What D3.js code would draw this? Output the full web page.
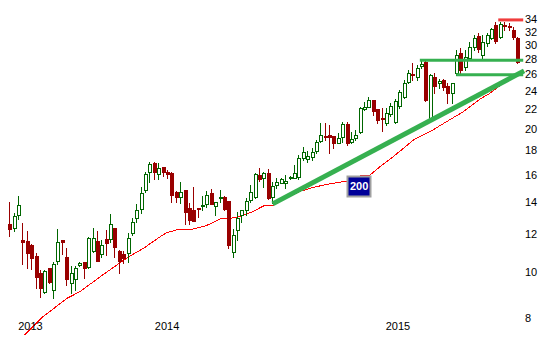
<!DOCTYPE html>
<html lang="en">
<head>
<meta charset="UTF-8">
<title>Weekly candles</title>
<script src="https://cdn.jsdelivr.net/npm/d3@7"></script>
<style>
  body { margin: 0; background: #fff; }
  svg { display: block; font-family: "Liberation Sans", Arial, sans-serif; }
</style>
</head>
<body>
<svg width="540" height="360"></svg>
<script>
// weekly OHLC
const opens = [
  12.59,12.35,13.15,11.67,11.61,11.39,10.81,9.94,9.06,10.18,
  9.16,10.55,11.67,10.74,9.47,9.66,10.33,10.48,10.23,11.09,
  11.61,10.90,11.71,11.71,12.35,11.07,10.90,10.98,12.06,12.96,
  13.54,14.87,16.19,16.93,16.04,16.60,16.21,16.16,14.75,14.35,
  14.87,13.64,13.49,13.64,13.73,13.88,14.64,13.73,14.30,14.39,
  14.10,11.03,12.25,13.17,13.49,14.17,14.35,15.98,15.73,16.12,
  14.39,15.23,15.40,15.36,15.73,15.77,15.80,17.39,17.30,17.46,
  17.99,18.88,19.31,19.41,19.31,18.70,19.25,20.46,18.79,19.09,
  19.71,22.01,22.25,22.98,21.97,21.06,20.56,21.48,20.66,22.32,
  23.35,25.11,26.07,25.72,27.10,27.63,21.06,25.68,24.95,25.32,
  24.58,23.78,26.20,28.85,27.00,28.16,29.69,31.32,28.57,30.27,
  31.02,33.04,31.17,33.04,32.88,32.25,31.02
];
const highs = [
  14.02,13.32,14.44,12.69,12.19,11.45,10.97,10.09,10.09,10.21,
  10.51,12.29,11.70,11.25,10.30,10.30,10.51,10.50,11.82,12.35,
  12.19,11.67,12.25,13.22,12.38,11.10,11.09,12.06,12.96,13.88,
  15.10,16.24,17.06,17.00,16.97,16.64,16.37,16.20,14.78,15.47,
  14.90,13.94,15.10,13.66,14.44,14.80,14.92,14.03,14.87,14.41,
  14.12,12.31,13.38,13.51,14.32,15.23,16.12,16.55,16.24,16.43,
  15.47,15.73,15.73,15.98,15.90,16.79,17.62,18.33,17.99,18.19,
  18.94,20.53,20.53,20.36,19.35,19.57,20.69,20.69,19.71,19.88,
  22.25,22.79,23.35,23.02,22.00,22.11,22.11,22.66,23.09,24.12,
  25.32,26.58,27.50,27.24,27.76,27.90,26.07,26.20,25.44,25.44,
  24.95,24.97,29.27,29.55,29.27,30.42,31.47,31.78,31.47,31.78,
  32.56,33.52,33.52,33.52,33.36,32.72,31.10
];
const lows = [
  11.91,12.19,12.94,10.38,10.21,10.14,9.27,8.87,9.02,9.50,
  8.80,10.38,10.91,9.39,9.02,9.16,10.30,9.70,10.20,11.03,
  10.53,10.77,10.86,11.57,10.77,9.96,10.46,10.51,11.96,12.75,
  13.28,14.75,15.47,15.68,15.68,15.93,15.73,14.01,14.01,13.94,
  12.59,12.59,12.80,13.06,13.49,13.70,13.88,13.17,14.05,13.52,
  11.25,10.77,11.67,12.75,13.17,14.05,14.32,15.52,15.10,14.26,
  13.98,15.03,15.36,15.03,15.66,15.73,15.66,17.20,17.06,17.20,
  17.77,18.79,18.94,17.82,18.19,18.64,18.79,18.49,18.64,18.94,
  19.57,21.90,22.18,21.38,20.53,19.79,20.36,21.27,20.56,22.11,
  23.20,24.95,25.32,25.32,26.83,22.87,20.86,23.78,24.35,24.12,
  22.65,22.65,25.95,25.95,26.58,27.90,29.27,29.00,28.16,29.84,
  30.87,30.27,31.02,32.25,32.25,30.87,27.45
];
const closes = [
  12.29,13.11,13.83,11.57,10.98,10.72,9.77,9.27,10.05,9.54,
  10.38,11.57,11.57,9.66,9.94,10.21,10.46,10.21,11.80,11.76,
  10.56,11.39,11.53,12.59,11.30,10.55,10.68,11.76,12.75,13.49,
  14.68,16.04,16.84,16.19,16.51,16.19,16.09,14.51,14.39,14.75,
  13.38,12.86,12.82,13.54,13.83,14.51,13.90,14.01,14.39,13.54,
  11.39,11.96,13.00,13.49,14.10,14.75,16.04,15.66,16.12,14.28,
  15.18,15.47,15.68,15.55,15.85,16.12,17.34,17.85,17.53,17.85,
  18.79,19.41,19.18,19.25,18.64,19.09,20.46,18.64,19.03,19.41,
  22.08,22.25,22.98,21.83,20.86,20.91,21.59,22.32,22.87,23.89,
  24.92,26.16,25.95,26.79,27.37,22.98,25.95,24.58,25.20,24.47,
  23.78,24.95,28.57,26.58,28.34,29.69,31.02,29.41,30.42,31.47,
  32.40,30.58,33.20,32.88,32.72,31.17,27.67
];

// 200 day moving average, sampled (week position, value)
const maIdx = [3.2,7.3,12.9,15.9,20.5,24.3,27.3,30.4,34.2,35.7,38.7,41.8,44.8,47.9,51.7,55.1,
  57.8,60.0,63.1,66.1,69.2,72.2,76.9,79.8,82.1,84.4,87.4,89.4,92.0,95.8,99.6,103.4,107.2,109.5,112.9,115.9];
const maVal = [7.37,8.03,8.80,9.09,9.77,10.34,10.80,11.21,11.86,12.09,12.31,12.31,12.52,12.92,13.01,13.36,
  13.76,13.79,14.32,14.76,15.06,15.27,15.53,15.91,15.98,16.64,17.46,18.08,18.93,19.71,20.69,21.71,23.06,23.74,25.07,25.94];

const yTicks = [8, 10, 12, 14, 16, 18, 20, 22, 24, 26, 28, 30, 32, 34];
const yearLabels = ["2013", "2014", "2015"];
const yearIdx = [4.6, 35.8, 88.5];

// drawn annotations
const trendIdx = [59.9, 117.3], trendVal = [13.90, 26.45];
const resistIdx = [93.5, 117.1], resistVal = 27.85;
const supportIdx = [101.8, 117.1], supportVal = 25.95;
const topIdx = [111.4, 117.1], topVal = 33.85;
const maLabel = "200", maLabelIdx = 76.9, maLabelVal = 15.15;

const svg = d3.select("svg");
const x = d3.scaleLinear().domain([0, opens.length - 1]).range([10.3, 518.4]);
const y = d3.scaleLog().domain([8, 34]).range([318.1, 19]);

const candles = opens.map((o, i) => ({ i, o, h: highs[i], l: lows[i], c: closes[i] }));

// moving average
const ma = maIdx.map((k, j) => [k, maVal[j]]);
svg.append("path")
    .datum(ma)
    .attr("fill", "none")
    .attr("stroke", "#ff0000")
    .attr("stroke-width", 1)
    .attr("shape-rendering", "crispEdges")
    .attr("d", d3.line().x(d => x(d[0])).y(d => y(d[1])));

// candles
const g = svg.append("g").attr("shape-rendering", "crispEdges");
candles.forEach(d => {
    const cx = Math.round(x(d.i));
    const up = d.c >= d.o;
    const col = up ? "#006600" : "#990000";
    g.append("line")
        .attr("x1", cx - 0.5).attr("x2", cx - 0.5)
        .attr("y1", Math.round(y(d.h))).attr("y2", Math.round(y(d.l)) + 1)
        .attr("stroke", col);
    const top = Math.round(y(Math.max(d.o, d.c)));
    const bot = Math.round(y(Math.min(d.o, d.c)));
    if (up) {
        g.append("rect")
            .attr("x", cx - 1.5).attr("y", top + 0.5)
            .attr("width", 3).attr("height", Math.max(1, bot - top))
            .attr("fill", "#fff").attr("stroke", col);
    } else {
        g.append("rect")
            .attr("x", cx - 2).attr("y", top)
            .attr("width", 4).attr("height", Math.max(2, bot - top + 1))
            .attr("fill", col);
    }
});

// trend line and levels
const green = "#36b050";
svg.append("line")
    .attr("x1", x(trendIdx[0])).attr("y1", y(trendVal[0]))
    .attr("x2", x(trendIdx[1])).attr("y2", y(trendVal[1]))
    .attr("stroke", green).attr("stroke-width", 5);

function level(idx, val, color) {
    svg.append("line")
        .attr("x1", x(idx[0])).attr("x2", x(idx[1]))
        .attr("y1", y(val)).attr("y2", y(val))
        .attr("stroke", color).attr("stroke-width", 3);
}
level(resistIdx, resistVal, green);
level(supportIdx, supportVal, green);
level(topIdx, topVal, "#f03c3c");

// "200" tag
const lx = x(maLabelIdx), ly = y(maLabelVal);
svg.append("rect")
    .attr("x", Math.round(lx) + 0.5).attr("y", Math.round(ly - 10) + 0.5)
    .attr("width", 23).attr("height", 20)
    .attr("fill", "#000099").attr("stroke", "#a0a0a0").attr("stroke-width", 2);
svg.append("text")
    .attr("x", lx + 12).attr("y", ly)
    .attr("dy", "0.36em")
    .attr("text-anchor", "middle")
    .attr("fill", "#fff")
    .attr("font-size", 11).attr("font-weight", "bold")
    .text(maLabel);

// price axis on the right
const yAxis = svg.append("g")
    .attr("transform", "translate(525,0)")
    .call(d3.axisRight(y).tickValues(yTicks).tickFormat(d3.format("d")).tickSize(0).tickPadding(0));
yAxis.select(".domain").remove();
yAxis.selectAll("text")
    .attr("font-family", "'Liberation Sans', Arial, sans-serif")
    .attr("font-size", 11)
    .attr("fill", "#000");

// year labels
svg.selectAll(".year")
    .data(yearLabels)
    .enter().append("text")
    .attr("class", "year")
    .attr("x", (d, i) => x(yearIdx[i]))
    .attr("y", 326)
    .attr("dy", "0.35em")
    .attr("text-anchor", "middle")
    .attr("font-size", 11)
    .attr("fill", "#000")
    .text(d => d);
</script>
</body>
</html>
